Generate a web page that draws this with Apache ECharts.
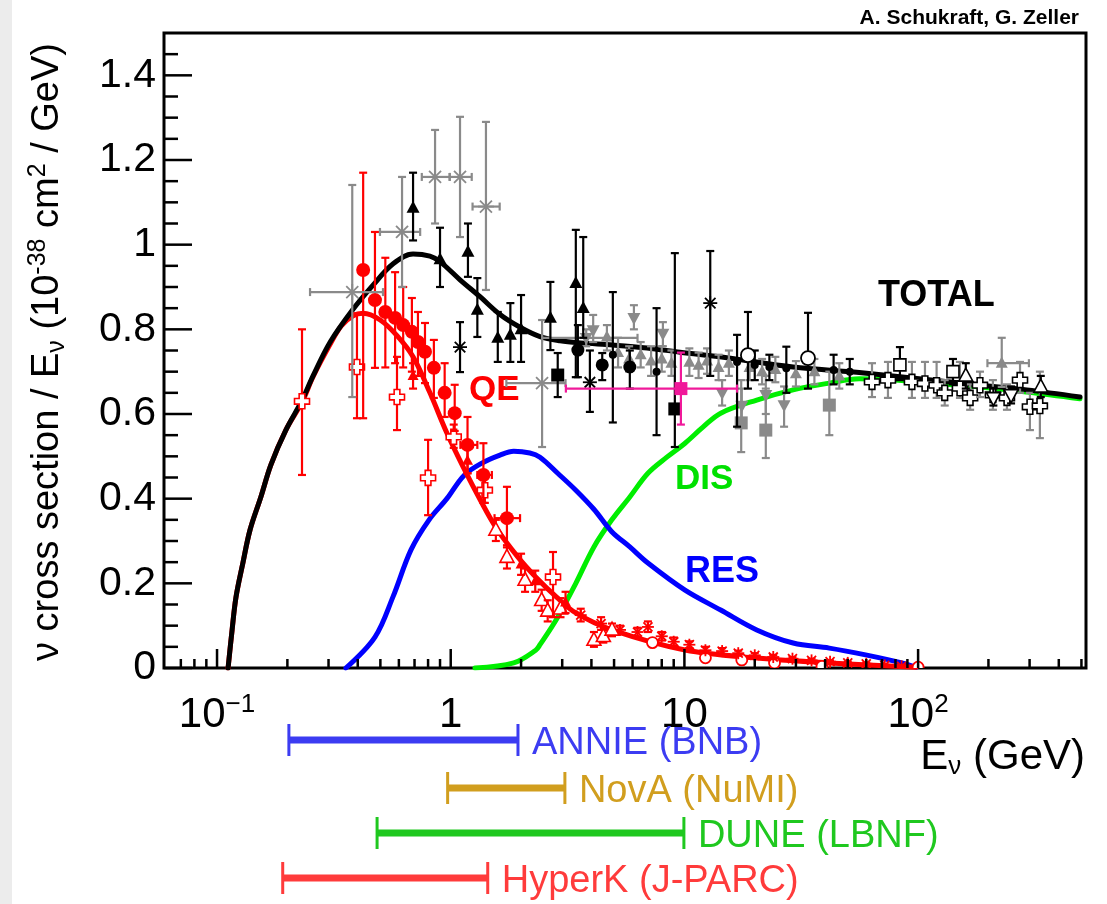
<!DOCTYPE html>
<html><head><meta charset="utf-8">
<script src="https://cdn.jsdelivr.net/npm/echarts/dist/echarts.min.js"></script>
<style>html,body{margin:0;padding:0;background:#fff;}#chart{width:1107px;height:904px;}</style>
</head><body><div id="chart"></div>
<script>
// ---------------- DATA ----------------
// model curves: [E (GeV), sigma/E (1e-38 cm^2/GeV)]
const totalCurve = [[0.1115,0],[0.116,0.09],[0.1205,0.167],[0.129,0.248],[0.1384,0.326],[0.154,0.404],[0.170,0.48],[0.197,0.562],[0.231,0.632],[0.2576,0.69],[0.305,0.77],[0.379,0.845],[0.466,0.905],[0.567,0.955],[0.69,0.978],[0.815,0.973],[0.90,0.96],[1.096,0.917],[1.335,0.877],[1.625,0.835],[1.98,0.805],[2.41,0.783],[2.94,0.773],[3.6,0.768],[4.94,0.763],[6.92,0.756],[9.57,0.746],[15.2,0.733],[29.2,0.711],[56,0.698],[151,0.673],[292,0.657],[493,0.64]];
const qeCurve = [[0.1115,0],[0.116,0.09],[0.1205,0.167],[0.129,0.248],[0.1384,0.326],[0.154,0.404],[0.170,0.48],[0.197,0.562],[0.231,0.628],[0.2576,0.688],[0.305,0.765],[0.34,0.808],[0.382,0.832],[0.422,0.838],[0.499,0.822],[0.589,0.785],[0.69,0.735],[0.815,0.65],[0.963,0.555],[1.13,0.475],[1.335,0.398],[1.57,0.33],[1.94,0.262],[2.31,0.215],[2.83,0.168],[3.43,0.13],[4.89,0.09],[10.06,0.0425],[20.4,0.0236],[41.7,0.012],[98,0.002]];
const resCurve = [[0.356,0],[0.474,0.073],[0.566,0.168],[0.676,0.279],[0.808,0.35],[0.963,0.40],[1.14,0.455],[1.36,0.484],[1.625,0.503],[1.86,0.512],[2.18,0.508],[2.41,0.498],[2.87,0.46],[3.43,0.42],[4.10,0.375],[4.89,0.322],[5.84,0.286],[6.98,0.248],[10.06,0.184],[14.3,0.137],[20.4,0.09],[29.2,0.059],[41.7,0.047],[59.6,0.031],[85.2,0.012],[98,0.002]];
const disCurve = [[1.27,0],[1.86,0.012],[2.31,0.042],[2.41,0.055],[2.87,0.12],[3.43,0.2],[4.1,0.286],[4.89,0.35],[5.84,0.404],[6.98,0.46],[8.41,0.498],[10.06,0.531],[12.0,0.569],[14.3,0.602],[20.4,0.633],[29.2,0.657],[41.7,0.673],[56,0.683],[151,0.668],[292,0.652],[493,0.636]];

// measurements: [E, y, yLow, yHigh, xLow, xHigh]
const redCircles = [[0.422,0.94,0.59,1.17],[0.474,0.869,0.709,1.03],[0.525,0.841,0.71,0.969],[0.578,0.827,0.72,0.935],[0.626,0.81,0.71,0.90],[0.682,0.794,0.70,0.874],[0.724,0.77,0.69,0.841],[0.776,0.747,0.673,0.815],[0.847,0.709,0.638,0.775],[0.942,0.65,0.593,0.72],[1.04,0.602,0.56,0.669],[1.18,0.527,0.46,0.593,1.10,1.30],[1.38,0.456,0.39,0.531,1.30,1.50],[1.74,0.354,0.285,0.428,1.54,1.98]];
const redOpenCross = [[0.231,0.63,0.456,0.80],[0.397,0.711,0.59,0.838],[0.589,0.64,0.562,0.735],[0.80,0.449,0.361,0.539],[1.03,0.546,0.52,0.575],[1.40,0.42,0.39,0.45],[2.74,0.215,0.12,0.274]];
const redTriangles = [[0.69,0.69,0.66,0.72],[1.18,0.49,0.46,0.52],[2.0,0.245,0.22,0.27],[2.3,0.205,0.18,0.23],[3.1,0.155,0.13,0.18]];
const redOpenTri = [[1.56,0.326,0.30,0.35],[1.74,0.262,0.235,0.29],[2.08,0.208,0.18,0.235],[2.45,0.16,0.135,0.185],[2.6,0.135,0.11,0.16],[2.95,0.14,0.12,0.165],[4.1,0.066,0.05,0.085],[4.5,0.075,0.06,0.09],[4.9,0.09,0.075,0.105]];
const redStars = [[3.6,0.125,0.11,0.14],[4.4,0.105,0.09,0.12],[5.3,0.09,0.08,0.10],[6.3,0.085,0.075,0.095],[6.98,0.097,0.085,0.11],[8.0,0.075,0.065,0.085],[9.0,0.062,0.052,0.072],[10.5,0.055,0.047,0.063],[12.3,0.042,0.035,0.05],[14.5,0.04,0.033,0.047],[17,0.035,0.029,0.041],[20,0.03,0.025,0.035],[24,0.026,0.021,0.031],[29,0.022,0.018,0.026],[35,0.018,0.014,0.022],[42,0.015,0.012,0.018],[50,0.012,0.009,0.015],[60,0.01,0.007,0.013],[72,0.006,0.004,0.008],[85,0.004,0.002,0.006]];
const redOpenCircles = [[7.3,0.06],[12.3,0.024],[17.6,0.019],[24.3,0.012],[38.8,0.004],[100,0.002]];
const redTail = [[49.9,0.012],[71.4,0.003]];

const blackTriangles = [[0.690,1.087,1.01,1.17],[0.900,0.965,0.90,1.04],[1.185,0.983,0.924,1.05],[1.30,0.846,0.782,0.921],[1.59,0.78,0.723,0.841],[1.80,0.787,0.723,0.862],[2.0,0.80,0.723,0.881],[2.67,0.827,0.751,0.912],[3.43,0.909,0.687,1.035],[3.69,0.85,0.78,1.018]];
const blackCircles = [[3.5,0.751,0.687,0.81],[4.45,0.716,0.68,0.744],[5.84,0.711,0.66,0.75]];
const blackDots = [[4.94,0.74,0.58,0.888],[7.6,0.70,0.55,0.85],[16.8,0.723,0.57,0.787],[20,0.716,0.68,0.75],[23.1,0.711,0.68,0.74],[27.3,0.708,0.65,0.759],[43.5,0.704,0.67,0.74],[51,0.70,0.67,0.73]];
const blackSquares = [[2.87,0.692,0.64,0.744],[9.1,0.612,0.522,0.98]];
const blackStars = [[1.096,0.758,0.699,0.817],[3.94,0.675,0.605,0.75],[12.9,0.862,0.69,0.985]];
const blackOpenCircles = [[18.7,0.739,0.66,0.841],[33.8,0.732,0.66,0.839]];
const magentaPoint = [[9.66,0.66,0.575,0.745,3.11,16.8]];

const grayStars = [[0.379,0.888,0.64,1.141,0.25,0.513],[0.619,1.03,0.90,1.16,0.498,0.74],[0.857,1.16,1.05,1.271,0.752,0.99],[1.096,1.16,1.018,1.302,0.99,1.23],[1.415,1.09,0.893,1.29,1.24,1.62],[2.46,0.673,0.522,0.822,1.73,3.1]];
const grayDownTri = [[3.8,0.78,0.76,0.80,2.46,6.3],[4.07,0.798,0.77,0.834],[6.08,0.827,0.80,0.857],[8.09,0.79,0.76,0.817],[14.5,0.65,0.62,0.68],[17.6,0.62,0.58,0.66],[22.3,0.645,0.60,0.69],[26.7,0.621,0.57,0.665]];
const graySquares = [[17.5,0.579,0.51,0.68],[22.3,0.562,0.496,0.66],[41.7,0.621,0.55,0.70]];
const grayTriangles = [[4.66,0.782,0.75,0.81],[5.2,0.745,0.71,0.78],[5.8,0.73,0.70,0.76],[6.5,0.74,0.71,0.77],[7.2,0.725,0.69,0.76],[8.0,0.73,0.70,0.76],[8.8,0.72,0.69,0.75],[10.5,0.722,0.69,0.755],[11.5,0.715,0.685,0.745],[12.5,0.725,0.695,0.755],[14,0.71,0.68,0.74],[15.5,0.72,0.69,0.75],[19,0.71,0.68,0.74],[21.5,0.70,0.67,0.73],[24.5,0.705,0.675,0.735],[30,0.695,0.665,0.725],[36,0.70,0.67,0.73],[46,0.69,0.66,0.72],[228,0.72,0.664,0.78,198,298]];
const openCrosses = [[63.5,0.676,0.64,0.72],[74.3,0.68,0.638,0.723],[94.1,0.676,0.638,0.723],[107,0.672,0.638,0.723],[120,0.668,0.638,0.723],[130,0.65,0.62,0.68],[151,0.661,0.638,0.723],[167,0.638,0.61,0.67],[184,0.668,0.64,0.70],[209,0.645,0.61,0.68],[240,0.638,0.61,0.67],[273,0.68,0.65,0.723],[301,0.617,0.562,0.65],[332,0.619,0.543,0.70]];
const openSquares = [[83.6,0.716,0.68,0.758],[141,0.70,0.67,0.73]];
const openTriangles = [[160,0.69,0.66,0.72],[335,0.664,0.64,0.69]];
const openDownTri = [[210,0.638,0.62,0.66],[250,0.645,0.625,0.665]];

// experiments' energy ranges (GeV)
const experimentNames = ['ANNIE (BNB)', 'NovA (NuMI)', 'DUNE (LBNF)', 'HyperK (J-PARC)'];
const experimentRanges = [[0.203, 1.94], [0.97, 3.08], [0.484, 9.95], [0.191, 1.44]];

// axis ticks
const xMajorTicks = [0.1, 1, 10, 100];
const xMinorTicks = [0.07,0.08,0.09,0.2,0.3,0.4,0.5,0.6,0.7,0.8,0.9,2,3,4,5,6,7,8,9,20,30,40,50,60,70,80,90,200,300,400,500];
const yMajorTicks = [0, 0.2, 0.4, 0.6, 0.8, 1.0, 1.2, 1.4];
const yMinorTicks = [0.05,0.1,0.15,0.25,0.3,0.35,0.45,0.5,0.55,0.65,0.7,0.75,0.85,0.9,0.95,1.05,1.1,1.15,1.25,1.3,1.35,1.45];
const xTickLabels = {'-1': '10{s|−1}', '0': '1', '1': '10', '2': '10{s|2}'};

// ---------------- LAYOUT / STYLE ----------------
const FONT = '"Liberation Sans", Arial, Helvetica, sans-serif';
const XMIN = 0.0593, XMAX = 523;
const expColors = ['#3c3cf2', '#d19e1e', '#1fc81f', '#ff3b3b'];
const expRowY = [740, 788, 833, 878];
const GRAY = '#8a8a8a';

function markerShapes(kind, cx, cy, s, col) {
  const r = s / 2;
  const W = '#ffffff';
  switch (kind) {
    case 'circle': return [{type:'circle', shape:{cx, cy, r}, style:{fill: col}}];
    case 'ocircle': return [{type:'circle', shape:{cx, cy, r}, style:{fill: W, stroke: col, lineWidth: 1.8}}];
    case 'tri': case 'otri': {
      const pts = [[cx, cy - r * 1.1], [cx + r, cy + r * 0.75], [cx - r, cy + r * 0.75]];
      return [{type:'polygon', shape:{points: pts}, style: kind === 'tri' ? {fill: col} : {fill: W, stroke: col, lineWidth: 1.6}}];
    }
    case 'tridown': case 'otridown': {
      const pts = [[cx, cy + r * 1.1], [cx + r, cy - r * 0.75], [cx - r, cy - r * 0.75]];
      return [{type:'polygon', shape:{points: pts}, style: kind === 'tridown' ? {fill: col} : {fill: W, stroke: col, lineWidth: 1.6}}];
    }
    case 'square': return [{type:'rect', shape:{x: cx - r, y: cy - r, width: s, height: s}, style:{fill: col}}];
    case 'osquare': return [{type:'rect', shape:{x: cx - r, y: cy - r, width: s, height: s}, style:{fill: W, stroke: col, lineWidth: 1.6}}];
    case 'ocross': {
      const a = r * 0.38;
      const pts = [[cx-a,cy-r],[cx+a,cy-r],[cx+a,cy-a],[cx+r,cy-a],[cx+r,cy+a],[cx+a,cy+a],[cx+a,cy+r],[cx-a,cy+r],[cx-a,cy+a],[cx-r,cy+a],[cx-r,cy-a],[cx-a,cy-a]];
      return [{type:'polygon', shape:{points: pts}, style:{fill: W, stroke: col, lineWidth: 1.6}}];
    }
    case 'star': {
      const d = r * 0.75, out = [];
      const segs = [[-d,-d,d,d],[-d,d,d,-d],[0,-r,0,r],[-r,0,r,0]];
      segs.forEach(g => out.push({type:'line', shape:{x1: cx+g[0], y1: cy+g[1], x2: cx+g[2], y2: cy+g[3]}, style:{stroke: col, lineWidth: 1.8}}));
      return out;
    }
    default: return [];
  }
}

function errSeries(name, data, st) {
  const rows = data.map(d => [d[0], d[1], d.length > 2 ? d[2] : d[1], d.length > 3 ? d[3] : d[1], d.length > 4 ? d[4] : d[0], d.length > 5 ? d[5] : d[0]]);
  return {
    type: 'custom', name, coordinateSystem: 'cartesian2d', clip: true, z: 3,
    dimensions: ['x', 'y', 'lo', 'hi', 'xl', 'xh'],
    encode: {x: 0, y: 1},
    data: rows,
    renderItem: function (params, api) {
      const x = api.value(0), y = api.value(1);
      const c = api.coord([x, y]);
      const pLo = api.coord([x, api.value(2)]), pHi = api.coord([x, api.value(3)]);
      const pXl = api.coord([api.value(4), y]), pXh = api.coord([api.value(5), y]);
      const bc = st.barColor || st.color, lw = st.lw || 2.2, cap = st.cap || 4;
      const L = (x1, y1, x2, y2) => ({type:'line', shape:{x1, y1, x2, y2}, style:{stroke: bc, lineWidth: lw}});
      const ch = [];
      if (Math.abs(pLo[1] - pHi[1]) > 1) {
        ch.push(L(c[0], pLo[1], c[0], pHi[1]));
        ch.push(L(c[0] - cap, pLo[1], c[0] + cap, pLo[1]));
        ch.push(L(c[0] - cap, pHi[1], c[0] + cap, pHi[1]));
      }
      if (Math.abs(pXh[0] - pXl[0]) > 1) {
        ch.push(L(pXl[0], c[1], pXh[0], c[1]));
        ch.push(L(pXl[0], c[1] - cap, pXl[0], c[1] + cap));
        ch.push(L(pXh[0], c[1] - cap, pXh[0], c[1] + cap));
      }
      markerShapes(st.marker, c[0], c[1], st.size || 13, st.color).forEach(m => ch.push(m));
      return {type: 'group', children: ch};
    }
  };
}

function curve(name, data, color) {
  return {type: 'line', name, data, showSymbol: false, smooth: 0.35, z: 2,
    lineStyle: {color, width: 5, join: 'round', cap: 'round'}, itemStyle: {color}, silent: true};
}

function tickSeries(data, isX, len) {
  return {
    type: 'custom', coordinateSystem: 'cartesian2d', clip: false, z: 10, silent: true,
    data: data.map(v => isX ? [v, 0] : [XMIN, v]),
    encode: {x: 0, y: 1},
    renderItem: function (params, api) {
      const p = api.coord([api.value(0), api.value(1)]);
      const shape = isX ? {x1: p[0], y1: p[1], x2: p[0], y2: p[1] - len} : {x1: p[0], y1: p[1], x2: p[0] + len, y2: p[1]};
      return {type: 'line', shape, style: {stroke: '#000', lineWidth: 2.5}};
    }
  };
}

const experimentSeries = {
  type: 'custom', coordinateSystem: 'cartesian2d', clip: false, z: 5, silent: true,
  data: experimentRanges.map((r, i) => [r[0], 0, r[1], i]),
  encode: {x: [0, 2], y: 1},
  renderItem: function (params, api) {
    const i = api.value(3);
    const a = api.coord([api.value(0), 0])[0], b = api.coord([api.value(2), 0])[0];
    const y = expRowY[i], col = expColors[i], h = 16;
    return {type: 'group', children: [
      {type: 'line', shape: {x1: a, y1: y, x2: b, y2: y}, style: {stroke: col, lineWidth: 7}},
      {type: 'line', shape: {x1: a, y1: y - h, x2: a, y2: y + h}, style: {stroke: col, lineWidth: 3}},
      {type: 'line', shape: {x1: b, y1: y - h, x2: b, y2: y + h}, style: {stroke: col, lineWidth: 3}},
      {type: 'text', x: b + 14, y: y + 4, style: {text: experimentNames[i], fill: col, font: '38px ' + FONT, textAlign: 'left', textVerticalAlign: 'middle', align: 'left', verticalAlign: 'middle'}}
    ]};
  }
};

const chart = echarts.init(document.getElementById('chart'), null, {renderer: 'canvas'});
chart.setOption({
  backgroundColor: '#ffffff',
  animation: false,
  grid: {left: 164, right: 21, top: 33, bottom: 236, show: true, borderColor: '#000', borderWidth: 3, backgroundColor: 'transparent'},
  xAxis: {
    type: 'log', logBase: 10, min: XMIN, max: XMAX,
    axisLine: {show: false}, axisTick: {show: false}, splitLine: {show: false}, minorTick: {show: false},
    axisLabel: {
      margin: 24, fontSize: 42, lineHeight: 46, color: '#000', fontFamily: FONT,
      showMinLabel: true, showMaxLabel: true,
      formatter: function (v) {
        const l = Math.log10(v), r = Math.round(l);
        if (Math.abs(l - r) > 1e-6) return '';
        return xTickLabels[String(r)] || '';
      },
      rich: {s: {fontSize: 26, lineHeight: 28, verticalAlign: 'top', fontFamily: FONT, color: '#000'}}
    }
  },
  yAxis: {
    type: 'value', min: 0, max: 1.5, interval: 0.2,
    axisLine: {show: false}, axisTick: {show: false}, splitLine: {show: false},
    axisLabel: {
      margin: 8, fontSize: 41, color: '#000', fontFamily: FONT, padding: [8, 0, 0, 0],
      formatter: function (v) {
        if (v > 1.45) return '';
        if (Math.abs(v) < 1e-9) return '0';
        if (Math.abs(v - 1) < 1e-9) return '1';
        return v.toFixed(1);
      }
    }
  },
  series: [
    curve('DIS', disCurve, '#00ee00'),
    curve('RES', resCurve, '#0000ff'),
    curve('QE', qeCurve, '#ff0000'),
    errSeries('redOpenCircles', redOpenCircles, {marker: 'ocircle', color: '#ff0000', size: 11}),
    errSeries('redStars', redStars, {marker: 'star', color: '#ff0000', size: 12}),
    errSeries('redTail', redTail, {marker: 'tri', color: '#ff0000', size: 11}),
    errSeries('redOpenTri', redOpenTri, {marker: 'otri', color: '#ff0000', size: 14}),
    errSeries('redTriangles', redTriangles, {marker: 'tri', color: '#ff0000', size: 11}),
    errSeries('redOpenCross', redOpenCross, {marker: 'ocross', color: '#ff0000', size: 15}),
    errSeries('redCircles', redCircles, {marker: 'circle', color: '#ff0000', size: 14}),
    errSeries('grayTriangles', grayTriangles, {marker: 'tri', color: GRAY, size: 12}),
    errSeries('grayDownTri', grayDownTri, {marker: 'tridown', color: GRAY, size: 13}),
    errSeries('graySquares', graySquares, {marker: 'square', color: GRAY, size: 13}),
    errSeries('grayStars', grayStars, {marker: 'star', color: GRAY, size: 16}),
    errSeries('openCrosses', openCrosses, {marker: 'ocross', color: '#000', barColor: GRAY, size: 15}),
    errSeries('openSquares', openSquares, {marker: 'osquare', color: '#000', size: 12}),
    errSeries('openTriangles', openTriangles, {marker: 'otri', color: '#000', size: 14}),
    errSeries('openDownTri', openDownTri, {marker: 'otridown', color: '#000', size: 14}),
    errSeries('blackCircles', blackCircles, {marker: 'circle', color: '#000', size: 13}),
    errSeries('blackDots', blackDots, {marker: 'circle', color: '#000', size: 8}),
    errSeries('blackSquares', blackSquares, {marker: 'square', color: '#000', size: 13}),
    errSeries('blackStars', blackStars, {marker: 'star', color: '#000', size: 14}),
    errSeries('blackOpenCircles', blackOpenCircles, {marker: 'ocircle', color: '#000', size: 14}),
    errSeries('blackTriangles', blackTriangles, {marker: 'tri', color: '#000', size: 13}),
    errSeries('magenta', magentaPoint, {marker: 'square', color: '#f0199a', size: 13}),
    curve('TOTAL', totalCurve, '#000000'),
    tickSeries(xMajorTicks, true, 19),
    tickSeries(xMinorTicks, true, 9),
    tickSeries(yMajorTicks, false, 28),
    tickSeries(yMinorTicks, false, 14),
    experimentSeries
  ],
  graphic: [
    {type: 'rect', left: 0, top: 0, shape: {x: 0, y: 0, width: 12, height: 904}, style: {fill: '#ececec'}, z: -1},
    {type: 'text', x: 1079, y: 18, style: {text: 'A. Schukraft, G. Zeller', font: 'bold 21px ' + FONT, fill: '#000', textAlign: 'right', textVerticalAlign: 'middle', align: 'right', verticalAlign: 'middle'}},
    {type: 'text', x: 48, y: 352, rotation: Math.PI / 2, style: {
      text: 'ν cross section / E{sub|ν} (10{sup|-38} cm{sup|2} / GeV)', fill: '#000', fontSize: 38, fontFamily: FONT, lineHeight: 44,
      textAlign: 'center', textVerticalAlign: 'middle', align: 'center', verticalAlign: 'middle',
      rich: {sub: {fontSize: 25, lineHeight: 22, verticalAlign: 'bottom', fontFamily: FONT, fill: '#000'},
             sup: {fontSize: 25, lineHeight: 24, verticalAlign: 'top', fontFamily: FONT, fill: '#000'}}
    }},
    {type: 'text', x: 1085, y: 757, style: {
      text: 'E{sub|ν} (GeV)', fill: '#000', fontSize: 42, fontFamily: FONT, lineHeight: 46,
      textAlign: 'right', textVerticalAlign: 'middle', align: 'right', verticalAlign: 'middle',
      rich: {sub: {fontSize: 26, lineHeight: 20, verticalAlign: 'bottom', fontFamily: FONT, fill: '#000'}}
    }},
    {type: 'text', x: 878, y: 296, style: {text: 'TOTAL', font: 'bold 36px ' + FONT, fill: '#000', textAlign: 'left', textVerticalAlign: 'middle', align: 'left', verticalAlign: 'middle'}},
    {type: 'text', x: 469, y: 390, style: {text: 'QE', font: 'bold 35px ' + FONT, fill: '#ff0000', textAlign: 'left', textVerticalAlign: 'middle', align: 'left', verticalAlign: 'middle'}},
    {type: 'text', x: 685, y: 572, style: {text: 'RES', font: 'bold 36px ' + FONT, fill: '#0000ff', textAlign: 'left', textVerticalAlign: 'middle', align: 'left', verticalAlign: 'middle'}},
    {type: 'text', x: 675, y: 479, style: {text: 'DIS', font: 'bold 35px ' + FONT, fill: '#00e000', textAlign: 'left', textVerticalAlign: 'middle', align: 'left', verticalAlign: 'middle'}}
  ]
});
</script></body></html>
